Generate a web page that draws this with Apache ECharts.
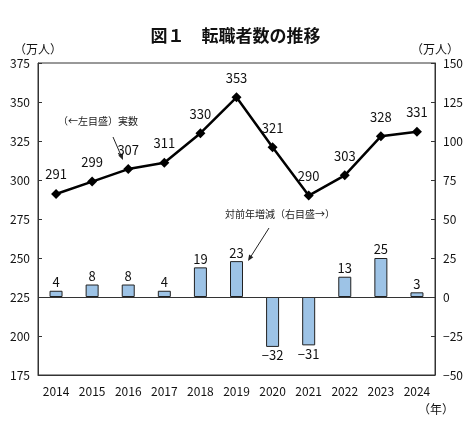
<!DOCTYPE html>
<html>
<head>
<meta charset="utf-8">
<script src="https://cdn.jsdelivr.net/npm/echarts@6/dist/echarts.min.js"></script>
<style>
    html, body { margin: 0; padding: 0; background: #fff; }
    #main { width: 471px; height: 423px; }
</style>
</head>
<body>
<div id="main"></div>
<script type="text/javascript">

    var years = ['2014', '2015', '2016', '2017', '2018', '2019', '2020', '2021', '2022', '2023', '2024'];
    // 転職者数（左目盛）
    var jobChangers = [291, 299, 307, 311, 330, 353, 321, 290, 303, 328, 331];
    // 対前年増減（右目盛）
    var yoyChange = [4, 8, 8, 4, 19, 23, -32, -31, 13, 25, 3];

    var FONT = '"Noto Sans CJK JP", "Liberation Sans", sans-serif';

    function minus(v) {
        return v < 0 ? '−' + Math.abs(v) : String(v);
    }

    function arrow(x1, y1, x2, y2) {
        var ang = Math.atan2(y2 - y1, x2 - x1);
        var len = 6, w = 2.5;
        var bx = x2 - len * Math.cos(ang), by = y2 - len * Math.sin(ang);
        return [
            { type: 'line', shape: { x1: x1, y1: y1, x2: bx, y2: by }, style: { stroke: '#222', lineWidth: 1 } },
            { type: 'polygon', shape: { points: [
                [x2, y2],
                [bx + w * Math.sin(ang), by - w * Math.cos(ang)],
                [bx - w * Math.sin(ang), by + w * Math.cos(ang)]
            ] }, style: { fill: '#222' } }
        ];
    }

    var chart = echarts.init(document.getElementById('main'));
    chart.setOption({
        animation: false,
        textStyle: { fontFamily: FONT },
        title: {
            text: '図１　転職者数の推移',
            left: 'center',
            top: 22,
            textStyle: { fontSize: 17, fontWeight: 'bold', color: '#111', fontFamily: FONT }
        },
        grid: {
            left: 38, right: 36, top: 63, bottom: 48,
            show: true, borderColor: '#333', borderWidth: 1
        },
        xAxis: {
            type: 'category',
            data: years,
            axisLine: { onZero: false, lineStyle: { color: '#333' } },
            axisTick: { show: false },
            axisLabel: { color: '#111', fontSize: 12, margin: 10 }
        },
        yAxis: [
            {
                type: 'value', min: 175, max: 375, interval: 25,
                name: '（万人）', nameGap: 8,
                nameTextStyle: { color: '#111', fontSize: 12, align: 'center' },
                splitLine: { show: false },
                axisLine: { show: true, lineStyle: { color: '#333' } },
                axisTick: { show: true, inside: true, length: 4, lineStyle: { color: '#333' } },
                axisLabel: { color: '#111', fontSize: 12, margin: 8 }
            },
            {
                type: 'value', min: -50, max: 150, interval: 25,
                name: '（万人）', nameGap: 8,
                nameTextStyle: { color: '#111', fontSize: 12, align: 'center' },
                splitLine: { show: false },
                axisLine: { show: true, lineStyle: { color: '#333' } },
                axisTick: { show: true, inside: true, length: 4, lineStyle: { color: '#333' } },
                axisLabel: { color: '#111', fontSize: 12, margin: 8, formatter: minus }
            }
        ],
        series: [
            {
                name: '対前年増減',
                type: 'bar',
                yAxisIndex: 1,
                data: yoyChange.map(function (v) {
                    // 負の値のラベルは棒の下に
                    return v < 0 ? { value: v, label: { position: 'bottom' } } : v;
                }),
                barWidth: 13,
                itemStyle: { color: '#9dc3e6', borderColor: '#222', borderWidth: 1 },
                label: {
                    show: true, position: 'top', distance: 2,
                    color: '#111', fontSize: 13,
                    formatter: function (p) { return minus(p.value); }
                },
                markLine: {
                    silent: true, symbol: 'none', label: { show: false },
                    lineStyle: { color: '#333', type: 'solid', width: 1 },
                    data: [{ yAxis: 0 }]
                }
            },
            {
                name: '実数',
                type: 'line',
                yAxisIndex: 0,
                data: jobChangers,
                symbol: 'diamond',
                symbolSize: 10,
                lineStyle: { color: '#000', width: 2.5 },
                itemStyle: { color: '#000' },
                label: { show: true, position: 'top', distance: 8, color: '#111', fontSize: 13 }
            }
        ],
        graphic: [
            { type: 'text', left: 418, top: 403, style: { text: '（年）', fill: '#111', font: '12px ' + FONT } },
            { type: 'text', x: 98, y: 121, style: { text: '（←左目盛）実数', fill: '#222', font: '10px ' + FONT, align: 'center', verticalAlign: 'middle' } },
            { type: 'text', x: 280, y: 214, style: { text: '対前年増減（右目盛→）', fill: '#222', font: '10px ' + FONT, align: 'center', verticalAlign: 'middle' } }
        ].concat(arrow(113, 137, 123, 160)).concat(arrow(269, 228, 248, 261))
    });
</script>
</body>
</html>
